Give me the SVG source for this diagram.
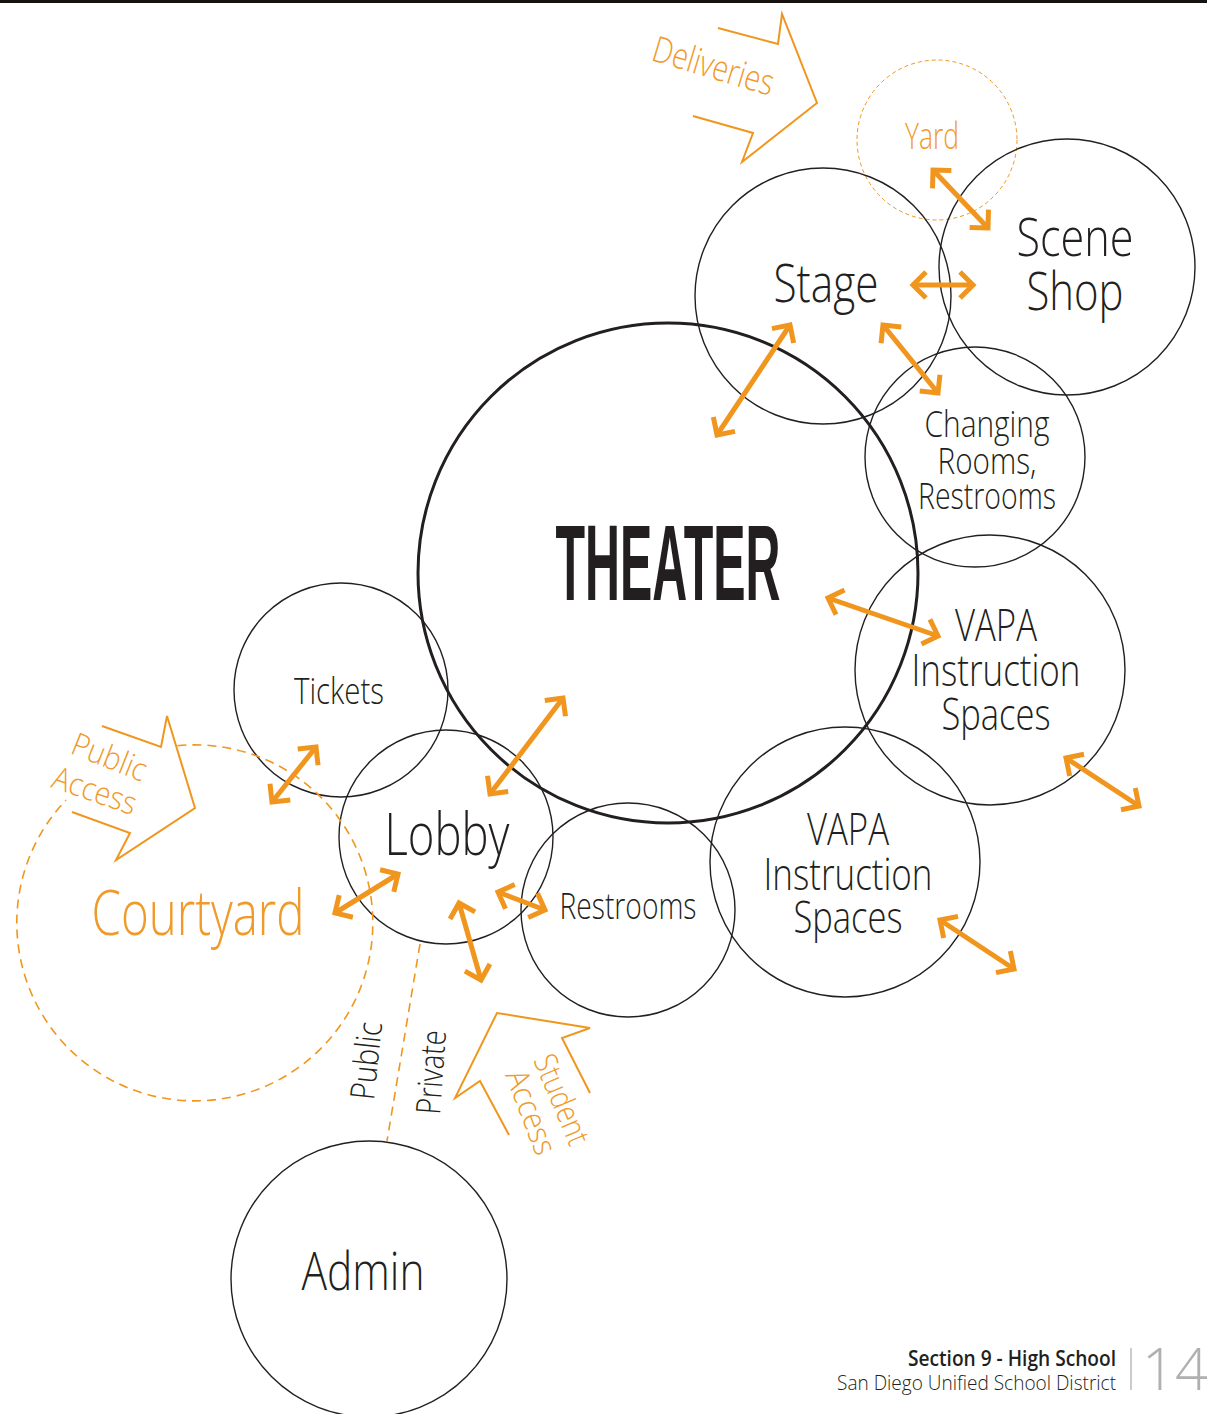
<svg xmlns="http://www.w3.org/2000/svg" width="1207" height="1414" viewBox="0 0 1207 1414">
<defs>
<style>
.c{fill:none;stroke:#231f20;stroke-width:1.4}
.th{fill:none;stroke:#231f20;stroke-width:3}
.dash{fill:none;stroke:#f0961e;stroke-width:1.6;stroke-dasharray:9 6}
.dashthin{fill:none;stroke:#f0961e;stroke-width:1;stroke-dasharray:4 3}
.ar{fill:none;stroke:#f0961e;stroke-width:5;marker-start:url(#h);marker-end:url(#h)}
.big{fill:none;stroke:#f0961e;stroke-width:2;stroke-linejoin:miter}
.t{font-family:"Open Sans","Liberation Sans",sans-serif;font-weight:300;fill:#231f20;text-anchor:middle}
.o{font-family:"Open Sans","Liberation Sans",sans-serif;font-weight:300;fill:#f09a2a}
</style>
<marker id="h" markerUnits="userSpaceOnUse" markerWidth="30" markerHeight="30" viewBox="-20 -15 30 30" refX="0" refY="0" orient="auto-start-reverse" overflow="visible">
<path d="M-13,-13 L0,0 L-13,13" fill="none" stroke="#f0961e" stroke-width="5" stroke-linejoin="miter"/>
</marker>
</defs>
<rect x="0" y="0" width="1207" height="1414" fill="#ffffff"/>
<rect x="0" y="0" width="1207" height="3" fill="#151210"/>

<g id="yard"><circle class="dashthin" cx="937" cy="140" r="80"/><text class="o" x="932" y="149" font-size="36" text-anchor="middle" textLength="54" lengthAdjust="spacingAndGlyphs">Yard</text></g>
<g id="stage"><circle class="c" cx="823" cy="296" r="128"/><text class="t" x="826" y="302" font-size="54" textLength="105" lengthAdjust="spacingAndGlyphs">Stage</text></g>
<g id="scene-shop"><circle class="c" cx="1067" cy="267" r="128"/><text class="t" x="1075" y="256" font-size="54" textLength="117" lengthAdjust="spacingAndGlyphs">Scene</text><text class="t" x="1075" y="310" font-size="54" textLength="97" lengthAdjust="spacingAndGlyphs">Shop</text></g>
<g id="changing"><circle class="c" cx="975" cy="457" r="110"/>
<text class="t" x="987" y="437" font-size="36" textLength="125" lengthAdjust="spacingAndGlyphs">Changing</text>
<text class="t" x="987" y="474" font-size="36" textLength="99" lengthAdjust="spacingAndGlyphs">Rooms,</text>
<text class="t" x="987" y="509" font-size="36" textLength="138" lengthAdjust="spacingAndGlyphs">Restrooms</text></g>
<g id="theater"><circle class="th" cx="668" cy="573" r="250"/><text x="668" y="600" font-family="'Liberation Sans',sans-serif" font-weight="bold" font-size="108" fill="#231f20" text-anchor="middle" textLength="225" lengthAdjust="spacingAndGlyphs">THEATER</text></g>
<g id="vapa1"><circle class="c" cx="990" cy="670" r="135"/>
<text class="t" x="996" y="641" font-size="44" textLength="82" lengthAdjust="spacingAndGlyphs">VAPA</text>
<text class="t" x="996" y="686" font-size="44" textLength="169" lengthAdjust="spacingAndGlyphs">Instruction</text>
<text class="t" x="996" y="730" font-size="44" textLength="109" lengthAdjust="spacingAndGlyphs">Spaces</text></g>
<g id="vapa2"><circle class="c" cx="845" cy="862" r="135"/>
<text class="t" x="848" y="845" font-size="44" textLength="82" lengthAdjust="spacingAndGlyphs">VAPA</text>
<text class="t" x="848" y="890" font-size="44" textLength="169" lengthAdjust="spacingAndGlyphs">Instruction</text>
<text class="t" x="848" y="933" font-size="44" textLength="109" lengthAdjust="spacingAndGlyphs">Spaces</text></g>
<g id="tickets"><circle class="c" cx="341" cy="690" r="107"/><text class="t" x="339" y="704" font-size="36" textLength="90" lengthAdjust="spacingAndGlyphs">Tickets</text></g>
<g id="lobby"><circle class="c" cx="446" cy="837" r="107"/><text class="t" x="447" y="855" font-size="58" textLength="125" lengthAdjust="spacingAndGlyphs">Lobby</text></g>
<g id="restrooms"><circle class="c" cx="628" cy="910" r="107"/><text class="t" x="628" y="919" font-size="36" textLength="137" lengthAdjust="spacingAndGlyphs">Restrooms</text></g>
<g id="courtyard"><path class="dash" d="M177.5,745.7 A178,178 0 1 1 66,800"/><text class="o" x="198" y="935" font-size="62" text-anchor="middle" textLength="213" lengthAdjust="spacingAndGlyphs">Courtyard</text></g>
<g id="admin"><circle class="c" cx="369" cy="1279" r="138"/><text class="t" x="363" y="1290" font-size="54" textLength="123" lengthAdjust="spacingAndGlyphs">Admin</text></g>

<g id="deliveries">
<polyline class="big" points="718,28 778,44 782,14 817,103 742,162 753,133 693,116"/>
<text class="o" transform="translate(650,60) rotate(16.7)" font-size="36" textLength="125" lengthAdjust="spacingAndGlyphs">Deliveries</text>
</g>
<g id="public-access">
<polyline class="big" points="102,726 161,747 167,716 195,808 116,860 130,833 72,812"/>
<text class="o" transform="translate(69,753) rotate(21.7)" font-size="32" textLength="78" lengthAdjust="spacingAndGlyphs">Public</text>
<text class="o" transform="translate(50,787) rotate(19)" font-size="32" textLength="87" lengthAdjust="spacingAndGlyphs">Access</text>
</g>
<g id="student-access">
<polyline class="big" points="590,1093 562,1038 590,1028 497,1013 455,1098 480,1081 509,1135"/>
<text class="o" transform="translate(533,1060) rotate(67)" font-size="32" textLength="95" lengthAdjust="spacingAndGlyphs">Student</text>
<text class="o" transform="translate(505,1075) rotate(69)" font-size="32" textLength="88" lengthAdjust="spacingAndGlyphs">Access</text>
</g>
<g id="public-private">
<line class="dash" x1="420" y1="944" x2="387" y2="1141"/>
<text class="t" transform="translate(378,1062) rotate(-84)" font-size="34" textLength="78" lengthAdjust="spacingAndGlyphs">Public</text>
<text class="t" transform="translate(443,1073) rotate(-86)" font-size="34" textLength="84" lengthAdjust="spacingAndGlyphs">Private</text>
</g>

<g id="connectors">
<line class="ar" x1="933" y1="170" x2="988" y2="228"/>
<line class="ar" x1="913" y1="285" x2="973" y2="285"/>
<line class="ar" x1="790" y1="325" x2="717" y2="435"/>
<line class="ar" x1="883" y1="325" x2="938" y2="393"/>
<line class="ar" x1="828" y1="598" x2="938" y2="636"/>
<line class="ar" x1="1066" y1="758" x2="1139" y2="806"/>
<line class="ar" x1="940" y1="920" x2="1014" y2="969"/>
<line class="ar" x1="563" y1="698" x2="490" y2="794"/>
<line class="ar" x1="316" y1="747" x2="272" y2="802"/>
<line class="ar" x1="398" y1="874" x2="335" y2="913"/>
<line class="ar" x1="498" y1="892" x2="545" y2="910"/>
<line class="ar" x1="459" y1="903" x2="481" y2="980"/>
</g>

<g id="footer">
<text x="1116" y="1366" font-family="'Open Sans','Liberation Sans',sans-serif" font-weight="600" font-size="21" fill="#231f20" text-anchor="end" textLength="208" lengthAdjust="spacingAndGlyphs">Section 9 - High School</text>
<text x="1116" y="1390" font-family="'Open Sans','Liberation Sans',sans-serif" font-weight="300" font-size="21" fill="#231f20" text-anchor="end" textLength="279" lengthAdjust="spacingAndGlyphs">San Diego Unified School District</text>
<line x1="1131" y1="1348" x2="1131" y2="1390" stroke="#bbbbbb" stroke-width="1.5"/>
<text x="1142" y="1390" font-family="'Open Sans','Liberation Sans',sans-serif" font-weight="300" font-size="58" fill="#b0b0b0">14</text>
</g>
</svg>
